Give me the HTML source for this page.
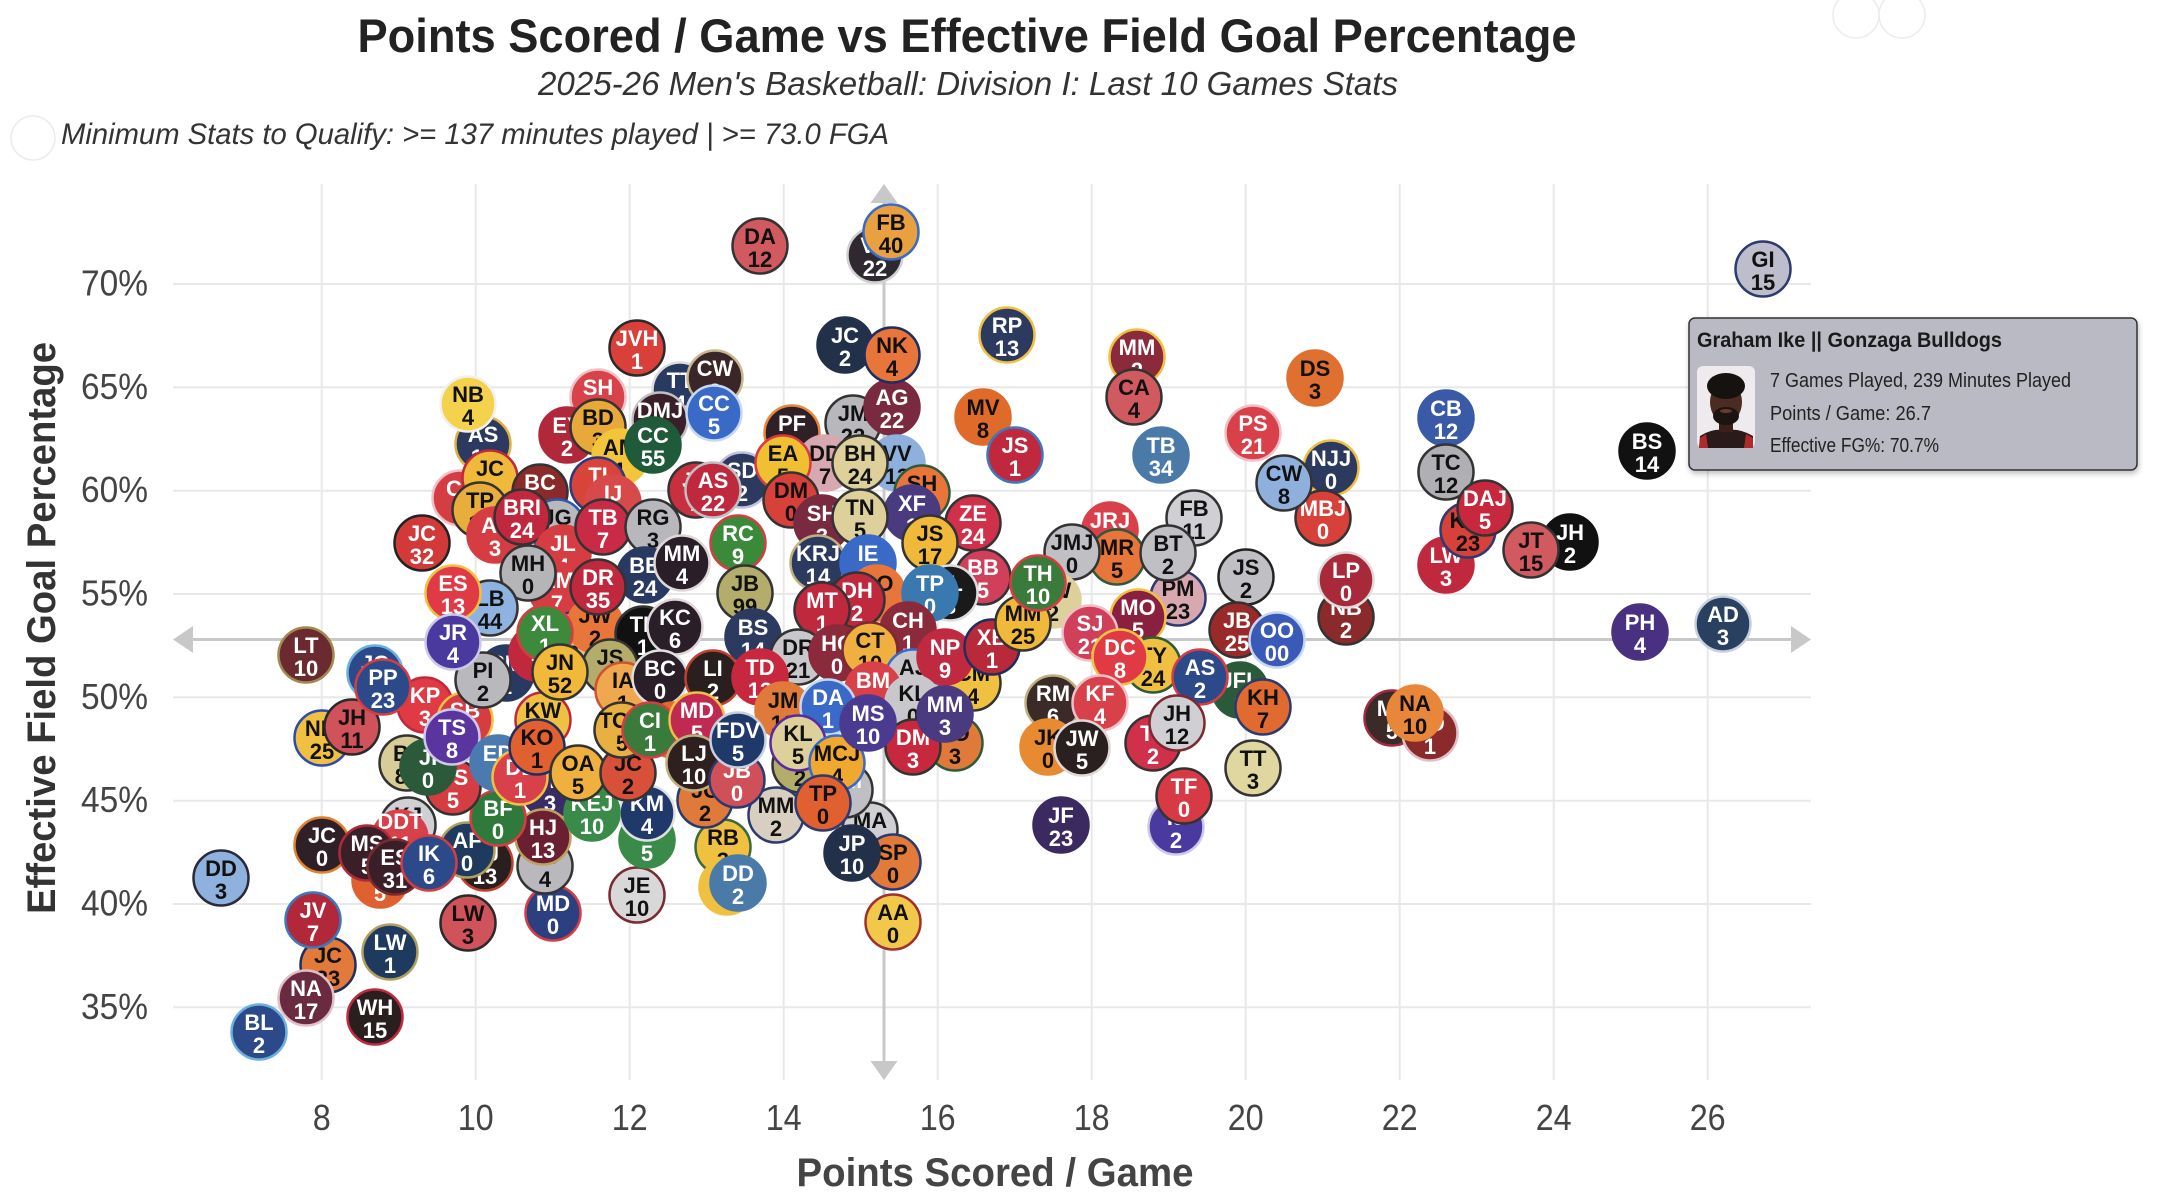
<!DOCTYPE html>
<html><head><meta charset="utf-8"><style>
html,body{margin:0;padding:0;background:#fff;}
body{width:2163px;height:1204px;overflow:hidden;}
svg{display:block;}
.b circle{stroke-width:2.5;}
.b text{font-family:"Liberation Sans",Arial,sans-serif;font-weight:bold;font-size:22px;text-anchor:middle;}
.w text{fill:#fff;}
.k text{fill:#111;}
.tick{font-family:"Liberation Sans",Arial,sans-serif;font-size:36px;fill:#444;}
</style></head><body>
<svg width="2163" height="1204" viewBox="0 0 2163 1204" xmlns="http://www.w3.org/2000/svg">
<defs><filter id="sh" x="-5%" y="-5%" width="110%" height="120%"><feDropShadow dx="1" dy="3" stdDeviation="3" flood-color="#000" flood-opacity="0.25"/></filter></defs>
<!-- header -->
<text x="967" y="52" text-anchor="middle" textLength="1219" lengthAdjust="spacingAndGlyphs" font-family="Liberation Sans, Arial, sans-serif" font-size="47" font-weight="bold" fill="#222">Points Scored / Game vs Effective Field Goal Percentage</text>
<text x="968" y="95" text-anchor="middle" textLength="860" lengthAdjust="spacingAndGlyphs" font-family="Liberation Sans, Arial, sans-serif" font-size="33" font-style="italic" fill="#333">2025-26 Men's Basketball: Division I: Last 10 Games Stats</text>
<circle cx="33" cy="138" r="22" fill="none" stroke="#ececec" stroke-width="1.5"/>
<text x="61" y="144" textLength="828" lengthAdjust="spacingAndGlyphs" font-family="Liberation Sans, Arial, sans-serif" font-size="30" font-style="italic" fill="#333">Minimum Stats to Qualify: &gt;= 137 minutes played | &gt;= 73.0 FGA</text>
<circle cx="1856" cy="15" r="23" fill="none" stroke="#ececec" stroke-width="1.5"/>
<circle cx="1902" cy="15" r="23" fill="none" stroke="#ececec" stroke-width="1.5"/>
<!-- grid -->
<g stroke="#e8e8e8" stroke-width="2">
<line x1="173" x2="1811" y1="284" y2="284"/><line x1="173" x2="1811" y1="387.3" y2="387.3"/><line x1="173" x2="1811" y1="490.7" y2="490.7"/><line x1="173" x2="1811" y1="594" y2="594"/><line x1="173" x2="1811" y1="697.3" y2="697.3"/><line x1="173" x2="1811" y1="800.7" y2="800.7"/><line x1="173" x2="1811" y1="904" y2="904"/><line x1="173" x2="1811" y1="1007.3" y2="1007.3"/>
<line y1="184" y2="1080" x1="321.7" x2="321.7"/><line y1="184" y2="1080" x1="475.7" x2="475.7"/><line y1="184" y2="1080" x1="629.7" x2="629.7"/><line y1="184" y2="1080" x1="783.7" x2="783.7"/><line y1="184" y2="1080" x1="937.7" x2="937.7"/><line y1="184" y2="1080" x1="1091.7" x2="1091.7"/><line y1="184" y2="1080" x1="1245.7" x2="1245.7"/><line y1="184" y2="1080" x1="1399.7" x2="1399.7"/><line y1="184" y2="1080" x1="1553.7" x2="1553.7"/><line y1="184" y2="1080" x1="1707.7" x2="1707.7"/>
</g>
<!-- median cross -->
<g fill="#c8c8c8" stroke="none">
<rect x="190" y="638" width="1604" height="3"/>
<rect x="882.5" y="200" width="3" height="864"/>
<polygon points="173,639.5 193,626 193,653"/>
<polygon points="1811,639.5 1791,626 1791,653"/>
<polygon points="884,184 870.5,203 897.5,203"/>
<polygon points="884,1080 870.5,1061 897.5,1061"/>
</g>
<!-- axis ticks -->
<g class="tick" text-anchor="end">
<text x="148" y="295.5" textLength="67" lengthAdjust="spacingAndGlyphs">70%</text>
<text x="148" y="398.8" textLength="67" lengthAdjust="spacingAndGlyphs">65%</text>
<text x="148" y="502.2" textLength="67" lengthAdjust="spacingAndGlyphs">60%</text>
<text x="148" y="605.5" textLength="67" lengthAdjust="spacingAndGlyphs">55%</text>
<text x="148" y="708.8" textLength="67" lengthAdjust="spacingAndGlyphs">50%</text>
<text x="148" y="812.2" textLength="67" lengthAdjust="spacingAndGlyphs">45%</text>
<text x="148" y="915.5" textLength="67" lengthAdjust="spacingAndGlyphs">40%</text>
<text x="148" y="1018.8" textLength="67" lengthAdjust="spacingAndGlyphs">35%</text>
</g>
<g class="tick" text-anchor="middle">
<text x="321.7" y="1130" textLength="18" lengthAdjust="spacingAndGlyphs">8</text>
<text x="475.7" y="1130" textLength="36" lengthAdjust="spacingAndGlyphs">10</text>
<text x="629.7" y="1130" textLength="36" lengthAdjust="spacingAndGlyphs">12</text>
<text x="783.7" y="1130" textLength="36" lengthAdjust="spacingAndGlyphs">14</text>
<text x="937.7" y="1130" textLength="36" lengthAdjust="spacingAndGlyphs">16</text>
<text x="1091.7" y="1130" textLength="36" lengthAdjust="spacingAndGlyphs">18</text>
<text x="1245.7" y="1130" textLength="36" lengthAdjust="spacingAndGlyphs">20</text>
<text x="1399.7" y="1130" textLength="36" lengthAdjust="spacingAndGlyphs">22</text>
<text x="1553.7" y="1130" textLength="36" lengthAdjust="spacingAndGlyphs">24</text>
<text x="1707.7" y="1130" textLength="36" lengthAdjust="spacingAndGlyphs">26</text>
</g>
<text x="995" y="1186" text-anchor="middle" textLength="397" lengthAdjust="spacingAndGlyphs" font-family="Liberation Sans, Arial, sans-serif" font-size="40" font-weight="bold" fill="#444">Points Scored / Game</text>
<text transform="translate(55,628) rotate(-90)" text-anchor="middle" textLength="572" lengthAdjust="spacingAndGlyphs" font-family="Liberation Sans, Arial, sans-serif" font-size="40" font-weight="bold" fill="#333">Effective Field Goal Percentage</text>

<!-- bubbles -->
<g>
<!-- isolated lower-left -->
<g class="b k" transform="translate(221,878)"><circle r="27.5" fill="#8fb1de" stroke="#2a2a3a"/><text y="-2">DD</text><text y="21">3</text></g>
<g class="b k" transform="translate(328,965)"><circle r="27.5" fill="#e27a3a" stroke="#1f2e60"/><text y="-2">JC</text><text y="21">23</text></g>
<g class="b w" transform="translate(313,920)"><circle r="27.5" fill="#b0283a" stroke="#3a78c0"/><text y="-2">JV</text><text y="21">7</text></g>
<g class="b w" transform="translate(306,998)"><circle r="27.5" fill="#6a2a40" stroke="#e0c0c8"/><text y="-2">NA</text><text y="21">17</text></g>
<g class="b w" transform="translate(259,1032)"><circle r="27.5" fill="#2c4a8a" stroke="#6ab0e0"/><text y="-2">BL</text><text y="21">2</text></g>
<g class="b w" transform="translate(375,1017)"><circle r="27.5" fill="#2a1f1f" stroke="#c0283e"/><text y="-2">WH</text><text y="21">15</text></g>
<g class="b w" transform="translate(390,952)"><circle r="27.5" fill="#1f3a5f" stroke="#b0a060"/><text y="-2">LW</text><text y="21">1</text></g>
<g class="b k" transform="translate(468,923)"><circle r="27.5" fill="#d0525a" stroke="#2a2a2a"/><text y="-2">LW</text><text y="21">3</text></g>
<g class="b w" transform="translate(553,913)"><circle r="27.5" fill="#2c4080" stroke="#d63d42"/><text y="-2">MD</text><text y="21">0</text></g>
<g class="b k" transform="translate(637,895)"><circle r="27.5" fill="#d8d8d8" stroke="#7a2a30"/><text y="-2">JE</text><text y="21">10</text></g>
<g class="b w" transform="translate(322,845)"><circle r="27.5" fill="#2f2028" stroke="#e08030"/><text y="-2">JC</text><text y="21">0</text></g>
<g class="b k" transform="translate(408,825)"><circle r="27.5" fill="#d0d0d4" stroke="#333"/><text y="-2">KJ</text><text y="21">1</text></g>
<g class="b w" transform="translate(400,838)"><circle r="27.5" fill="#d8404a" stroke="#d8404a"/><text y="-9">DDT</text><text y="14">11</text></g>
<g class="b w" transform="translate(380,880)"><circle r="27.5" fill="#e06030" stroke="#e06030"/><text y="-2">CE</text><text y="21">5</text></g>
<g class="b w" transform="translate(367,853)"><circle r="27.5" fill="#3a1f28" stroke="#b02a3a"/><text y="-2">MS</text><text y="21">5</text></g>
<g class="b w" transform="translate(395,867)"><circle r="27.5" fill="#3a1f28" stroke="#7a2a30"/><text y="-2">ES</text><text y="21">31</text></g>
<g class="b w" transform="translate(485,863)"><circle r="27.5" fill="#2a1f1f" stroke="#c04030"/><text y="-2">AJ</text><text y="21">13</text></g>
<g class="b w" transform="translate(467,850)"><circle r="27.5" fill="#1f3a5f" stroke="#b0a060"/><text y="-2">AF</text><text y="21">0</text></g>
<g class="b w" transform="translate(429,863)"><circle r="27.5" fill="#2c4a8a" stroke="#d63d42"/><text y="-2">IK</text><text y="21">6</text></g>
<g class="b k" transform="translate(545,866)"><circle r="27.5" fill="#b9b9bd" stroke="#333"/><text y="-2">HJ</text><text y="21">4</text></g>
<g class="b w" transform="translate(550,790)"><circle r="27.5" fill="#3a2c66" stroke="#3a2c66"/><text y="-2">VD</text><text y="21">3</text></g>
<g class="b w" transform="translate(543,837)"><circle r="27.5" fill="#6a2030" stroke="#c0a060"/><text y="-2">HJ</text><text y="21">13</text></g>
<g class="b w" transform="translate(647,840)"><circle r="27.5" fill="#3a8a4a" stroke="#3a8a4a"/><text y="-2">TS</text><text y="21">5</text></g>
<g class="b w" transform="translate(647,813)"><circle r="27.5" fill="#1f3a6a" stroke="#e0e0e0"/><text y="-2">KM</text><text y="21">4</text></g>
<g class="b w" transform="translate(592,813)"><circle r="27.5" fill="#3a8a4a" stroke="#3a8a4a"/><text y="-2">KEJ</text><text y="21">10</text></g>
<g class="b w" transform="translate(498,818)"><circle r="27.5" fill="#2f7a3a" stroke="#d63d42"/><text y="-2">BF</text><text y="21">0</text></g>
<g class="b k" transform="translate(723,847)"><circle r="27.5" fill="#f0c040" stroke="#3a6a3a"/><text y="-2">RB</text><text y="21">3</text></g>
<g class="b k" transform="translate(727,887)"><circle r="27.5" fill="#f0c040" stroke="#f0c040"/><text y="-2">HJ</text><text y="21">3</text></g>
<g class="b w" transform="translate(738,883)"><circle r="27.5" fill="#4a7aa8" stroke="#4a7aa8"/><text y="-2">DD</text><text y="21">2</text></g>
<g class="b k" transform="translate(870,830)"><circle r="27.5" fill="#d0d0d4" stroke="#333"/><text y="-2">MA</text><text y="21">4</text></g>
<g class="b k" transform="translate(893,862)"><circle r="27.5" fill="#e27a3a" stroke="#2c3a70"/><text y="-2">SP</text><text y="21">0</text></g>
<g class="b w" transform="translate(852,853)"><circle r="27.5" fill="#22304a" stroke="#22304a"/><text y="-2">JP</text><text y="21">10</text></g>
<g class="b k" transform="translate(893,922)"><circle r="27.5" fill="#f2c84a" stroke="#a03030"/><text y="-2">AA</text><text y="21">0</text></g>

<!-- mid-lower core -->
<g class="b k" transform="translate(322,738)"><circle r="27.5" fill="#f0c040" stroke="#2c4ab0"/><text y="-2">NM</text><text y="21">25</text></g>
<g class="b k" transform="translate(352,727)"><circle r="27.5" fill="#d0525a" stroke="#2a2a2a"/><text y="-2">JH</text><text y="21">11</text></g>
<g class="b w" transform="translate(375,673)"><circle r="27.5" fill="#2c4a8a" stroke="#6ab0e0"/><text y="-2">JC</text><text y="21">1</text></g>
<g class="b w" transform="translate(425,705)"><circle r="27.5" fill="#e03a45" stroke="#c0283e"/><text y="-2">KP</text><text y="21">3</text></g>
<g class="b w" transform="translate(383,687)"><circle r="27.5" fill="#2c4a8a" stroke="#d63d42"/><text y="-2">PP</text><text y="21">23</text></g>
<g class="b w" transform="translate(465,720)"><circle r="27.5" fill="#d63d42" stroke="#f0c040"/><text y="-2">SB</text><text y="21">2</text></g>
<g class="b k" transform="translate(407,763)"><circle r="27.5" fill="#d8cc98" stroke="#333"/><text y="-2">BJ</text><text y="21">80</text></g>
<g class="b w" transform="translate(453,787)"><circle r="27.5" fill="#d63d42" stroke="#333"/><text y="-2">DS</text><text y="21">5</text></g>
<g class="b w" transform="translate(428,767)"><circle r="27.5" fill="#2a5a3a" stroke="#2a5a3a"/><text y="-2">JI</text><text y="21">0</text></g>
<g class="b w" transform="translate(452,737)"><circle r="27.5" fill="#5a35a0" stroke="#d0c8e8"/><text y="-2">TS</text><text y="21">8</text></g>
<g class="b w" transform="translate(506,673)"><circle r="27.5" fill="#283a62" stroke="#283a62"/><text y="-2">RM</text><text y="21">1</text></g>
<g class="b k" transform="translate(483,680)"><circle r="27.5" fill="#b9b9bd" stroke="#333"/><text y="-2">PI</text><text y="21">2</text></g>
<g class="b w" transform="translate(498,763)"><circle r="27.5" fill="#4a7ab0" stroke="#4a7ab0"/><text y="-2">ED</text><text y="21">3</text></g>
<g class="b w" transform="translate(520,777)"><circle r="27.5" fill="#d8404a" stroke="#f0c040"/><text y="-2">DL</text><text y="21">1</text></g>
<g class="b k" transform="translate(543,720)"><circle r="27.5" fill="#f0c040" stroke="#c0283e"/><text y="-2">KW</text><text y="21">3</text></g>
<g class="b k" transform="translate(537,747)"><circle r="27.5" fill="#e06030" stroke="#1f2e60"/><text y="-2">KO</text><text y="21">1</text></g>
<g class="b k" transform="translate(578,773)"><circle r="27.5" fill="#f0b040" stroke="#333"/><text y="-2">OA</text><text y="21">5</text></g>
<g class="b k" transform="translate(628,773)"><circle r="27.5" fill="#d8503a" stroke="#333"/><text y="-2">JC</text><text y="21">2</text></g>

<!-- upper-left cluster -->
<g class="b w" transform="translate(483,444)"><circle r="27.5" fill="#2c3a60" stroke="#e0b040"/><text y="-2">AS</text><text y="21">10</text></g>
<g class="b k" transform="translate(468,404)"><circle r="27.5" fill="#f4d24b" stroke="#f0f0f0"/><text y="-2">NB</text><text y="21">4</text></g>
<g class="b w" transform="translate(460,498)"><circle r="27.5" fill="#d63d42" stroke="#f0c0c8"/><text y="-2">CJ</text><text y="21">3</text></g>
<g class="b k" transform="translate(490,478)"><circle r="27.5" fill="#f0b93a" stroke="#c0283e"/><text y="-2">JC</text><text y="21">2</text></g>
<g class="b w" transform="translate(540,492)"><circle r="27.5" fill="#8b2a2a" stroke="#333"/><text y="-2">BC</text><text y="21">3</text></g>
<g class="b k" transform="translate(480,510)"><circle r="27.5" fill="#e8ad3b" stroke="#333"/><text y="-2">TP</text><text y="21">11</text></g>
<g class="b w" transform="translate(495,535)"><circle r="27.5" fill="#d63d42" stroke="#d63d42"/><text y="-2">AT</text><text y="21">3</text></g>
<g class="b k" transform="translate(557,527)"><circle r="27.5" fill="#b9b9bd" stroke="#2a5ab0"/><text y="-2">JG</text><text y="21">2</text></g>
<g class="b w" transform="translate(522,517)"><circle r="27.5" fill="#c1273d" stroke="#333"/><text y="-2">BRI</text><text y="21">24</text></g>
<g class="b w" transform="translate(422,543)"><circle r="27.5" fill="#d23a3a" stroke="#222"/><text y="-2">JC</text><text y="21">32</text></g>
<g class="b w" transform="translate(563,553)"><circle r="27.5" fill="#d63d42" stroke="#d63d42"/><text y="-2">JL</text><text y="21">4</text></g>
<g class="b w" transform="translate(557,590)"><circle r="27.5" fill="#d63d42" stroke="#d63d42"/><text y="-2">AM</text><text y="21">7</text></g>
<g class="b k" transform="translate(528,573)"><circle r="27.5" fill="#b5b5b8" stroke="#333"/><text y="-2">MH</text><text y="21">0</text></g>
<g class="b k" transform="translate(490,608)"><circle r="27.5" fill="#8fb3e0" stroke="#333"/><text y="-2">LB</text><text y="21">44</text></g>
<g class="b w" transform="translate(453,593)"><circle r="27.5" fill="#e03a45" stroke="#f0c040"/><text y="-2">ES</text><text y="21">13</text></g>
<g class="b w" transform="translate(453,642)"><circle r="27.5" fill="#4a3aa0" stroke="#d0c8e8"/><text y="-2">JR</text><text y="21">4</text></g>
<g class="b w" transform="translate(537,653)"><circle r="27.5" fill="#c0283e" stroke="#c0283e"/><text y="-2">NV</text><text y="21">7</text></g>
<g class="b k" transform="translate(573,640)"><circle r="27.5" fill="#e0c890" stroke="#3a2a90"/><text y="-2">VI</text><text y="21">3</text></g>
<g class="b k" transform="translate(595,625)"><circle r="27.5" fill="#e8763a" stroke="#e8763a"/><text y="-2">JW</text><text y="21">2</text></g>
<g class="b w" transform="translate(545,633)"><circle r="27.5" fill="#3d8a3d" stroke="#d63d42"/><text y="-2">XL</text><text y="21">1</text></g>
<g class="b w" transform="translate(306,655)"><circle r="27.5" fill="#6b2a30" stroke="#a08a50"/><text y="-2">LT</text><text y="21">10</text></g>

<g class="b w" transform="translate(680,390)"><circle r="27.5" fill="#283a62" stroke="#ddd"/><text y="-2">TT</text><text y="21">4</text></g>
<g class="b w" transform="translate(715,378)"><circle r="27.5" fill="#3a2528" stroke="#c8b890"/><text y="-2">CW</text><text y="21">2</text></g>
<g class="b w" transform="translate(637,348)"><circle r="27.5" fill="#d9403a" stroke="#2a2a2a"/><text y="-2">JVH</text><text y="21">1</text></g>
<g class="b w" transform="translate(598,397)"><circle r="27.5" fill="#d8424a" stroke="#f0c0c8"/><text y="-2">SH</text><text y="21">4</text></g>
<g class="b w" transform="translate(567,435)"><circle r="27.5" fill="#b0283a" stroke="#b0283a"/><text y="-2">EY</text><text y="21">2</text></g>
<g class="b k" transform="translate(598,427)"><circle r="27.5" fill="#e8a93a" stroke="#333"/><text y="-2">BD</text><text y="21">3</text></g>
<g class="b w" transform="translate(660,420)"><circle r="27.5" fill="#3a1f28" stroke="#c0c0c0"/><text y="-2">DMJ</text><text y="21">3</text></g>
<g class="b k" transform="translate(620,457)"><circle r="27.5" fill="#f2c53a" stroke="#f2c53a"/><text y="-2">AM</text><text y="21">1</text></g>
<g class="b w" transform="translate(653,445)"><circle r="27.5" fill="#1f5a3a" stroke="#1f5a3a"/><text y="-2">CC</text><text y="21">55</text></g>
<g class="b w" transform="translate(714,413)"><circle r="27.5" fill="#3a6ac8" stroke="#c8d8f0"/><text y="-2">CC</text><text y="21">5</text></g>
<g class="b w" transform="translate(598,485)"><circle r="27.5" fill="#d8433a" stroke="#2a3a80"/><text y="-2">TI</text><text y="21">12</text></g>
<g class="b w" transform="translate(613,503)"><circle r="27.5" fill="#d84a4a" stroke="#d84a4a"/><text y="-2">IJ</text><text y="21">2</text></g>
<g class="b w" transform="translate(696,490)"><circle r="27.5" fill="#c83040" stroke="#333"/><text y="-2">JA</text><text y="21">1</text></g>
<g class="b w" transform="translate(603,527)"><circle r="27.5" fill="#c92a45" stroke="#333"/><text y="-2">TB</text><text y="21">7</text></g>
<g class="b k" transform="translate(653,527)"><circle r="27.5" fill="#b8b8bc" stroke="#333"/><text y="-2">RG</text><text y="21">3</text></g>
<g class="b w" transform="translate(645,575)"><circle r="27.5" fill="#283a62" stroke="#283a62"/><text y="-2">BB</text><text y="21">24</text></g>
<g class="b w" transform="translate(598,587)"><circle r="27.5" fill="#c0283e" stroke="#333"/><text y="-2">DR</text><text y="21">35</text></g>
<g class="b w" transform="translate(742,480)"><circle r="27.5" fill="#2c3a60" stroke="#c0c0e0"/><text y="-2">SD</text><text y="21">2</text></g>
<g class="b w" transform="translate(713,490)"><circle r="27.5" fill="#c0283e" stroke="#c0c0c0"/><text y="-2">AS</text><text y="21">22</text></g>
<g class="b k" transform="translate(853,423)"><circle r="27.5" fill="#b8b8bc" stroke="#333"/><text y="-2">JM</text><text y="21">22</text></g>
<g class="b w" transform="translate(845,345)"><circle r="27.5" fill="#22304a" stroke="#22304a"/><text y="-2">JC</text><text y="21">2</text></g>
<g class="b w" transform="translate(892,407)"><circle r="27.5" fill="#7a2a40" stroke="#7a2a40"/><text y="-2">AG</text><text y="21">22</text></g>
<g class="b k" transform="translate(892,355)"><circle r="27.5" fill="#e8763a" stroke="#1f2e60"/><text y="-2">NK</text><text y="21">4</text></g>
<g class="b w" transform="translate(792,433)"><circle r="27.5" fill="#2f2028" stroke="#e8863a"/><text y="-2">PF</text><text y="21">3</text></g>
<g class="b k" transform="translate(825,463)"><circle r="27.5" fill="#d8a8b0" stroke="#d8a8b0"/><text y="-2">DD</text><text y="21">7</text></g>
<g class="b k" transform="translate(783,463)"><circle r="27.5" fill="#f0c030" stroke="#d63d42"/><text y="-2">EA</text><text y="21">5</text></g>
<g class="b k" transform="translate(897,463)"><circle r="27.5" fill="#8fb0dc" stroke="#8fb0dc"/><text y="-2">VV</text><text y="21">13</text></g>
<g class="b k" transform="translate(860,463)"><circle r="27.5" fill="#ddd09a" stroke="#333"/><text y="-2">BH</text><text y="21">24</text></g>
<g class="b k" transform="translate(791,500)"><circle r="27.5" fill="#d8403a" stroke="#333"/><text y="-2">DM</text><text y="21">0</text></g>
<g class="b k" transform="translate(922,493)"><circle r="27.5" fill="#e8763a" stroke="#2f5a3a"/><text y="-2">SH</text><text y="21">2</text></g>
<g class="b w" transform="translate(822,523)"><circle r="27.5" fill="#7a2a40" stroke="#7a2a40"/><text y="-2">SH</text><text y="21">3</text></g>
<g class="b w" transform="translate(912,513)"><circle r="27.5" fill="#4a3a80" stroke="#4a3a80"/><text y="-2">XF</text><text y="21">1</text></g>
<g class="b k" transform="translate(860,517)"><circle r="27.5" fill="#ddd09a" stroke="#333"/><text y="-2">TN</text><text y="21">5</text></g>
<g class="b w" transform="translate(983,577)"><circle r="27.5" fill="#d0405a" stroke="#333"/><text y="-2">BB</text><text y="21">5</text></g>
<g class="b w" transform="translate(973,523)"><circle r="27.5" fill="#d0304a" stroke="#333"/><text y="-2">ZE</text><text y="21">24</text></g>
<g class="b k" transform="translate(930,543)"><circle r="27.5" fill="#f0b93a" stroke="#333"/><text y="-2">JS</text><text y="21">17</text></g>
<g class="b w" transform="translate(738,543)"><circle r="27.5" fill="#3a8a3a" stroke="#d63d42"/><text y="-2">RC</text><text y="21">9</text></g>
<g class="b w" transform="translate(682,563)"><circle r="27.5" fill="#2a1f28" stroke="#e0d8d8"/><text y="-2">MM</text><text y="21">4</text></g>
<g class="b w" transform="translate(818,563)"><circle r="27.5" fill="#2c3a60" stroke="#c0b080"/><text y="-2">KRJ</text><text y="21">14</text></g>
<g class="b w" transform="translate(868,563)"><circle r="27.5" fill="#3a6ac8" stroke="#3a6ac8"/><text y="-2">IE</text><text y="21">3</text></g>
<g class="b k" transform="translate(745,593)"><circle r="27.5" fill="#b3ac6a" stroke="#333"/><text y="-2">JB</text><text y="21">99</text></g>
<g class="b k" transform="translate(877,593)"><circle r="27.5" fill="#e8763a" stroke="#e8763a"/><text y="-2">AO</text><text y="21">0</text></g>
<g class="b w" transform="translate(950,593)"><circle r="27.5" fill="#1a1a1a" stroke="#ddd"/><text y="-2">JL</text><text y="21">3</text></g>
<g class="b w" transform="translate(930,593)"><circle r="27.5" fill="#3a78b0" stroke="#3a78b0"/><text y="-2">TP</text><text y="21">0</text></g>
<g class="b w" transform="translate(857,600)"><circle r="27.5" fill="#c0283e" stroke="#333"/><text y="-2">DH</text><text y="21">2</text></g>
<g class="b w" transform="translate(822,610)"><circle r="27.5" fill="#c0283e" stroke="#333"/><text y="-2">MT</text><text y="21">1</text></g>
<g class="b w" transform="translate(643,634)"><circle r="27.5" fill="#111" stroke="#333"/><text y="-2">TL</text><text y="21">1</text></g>
<g class="b w" transform="translate(675,627)"><circle r="27.5" fill="#2a1f28" stroke="#e0d8d8"/><text y="-2">KC</text><text y="21">6</text></g>
<g class="b k" transform="translate(610,667)"><circle r="27.5" fill="#b3ac6a" stroke="#333"/><text y="-2">JS</text><text y="21">3</text></g>
<g class="b k" transform="translate(560,672)"><circle r="27.5" fill="#f0b93a" stroke="#333"/><text y="-2">JN</text><text y="21">52</text></g>
<g class="b k" transform="translate(623,690)"><circle r="27.5" fill="#f0a850" stroke="#d05030"/><text y="-2">IA</text><text y="21">1</text></g>
<g class="b w" transform="translate(660,678)"><circle r="27.5" fill="#2a1f28" stroke="#e0e0e0"/><text y="-2">BC</text><text y="21">0</text></g>
<g class="b w" transform="translate(753,637)"><circle r="27.5" fill="#2c3a60" stroke="#2c3a60"/><text y="-2">BS</text><text y="21">14</text></g>
<g class="b w" transform="translate(713,678)"><circle r="27.5" fill="#2a1f1f" stroke="#c04030"/><text y="-2">LI</text><text y="21">2</text></g>
<g class="b k" transform="translate(798,657)"><circle r="27.5" fill="#c8c8cc" stroke="#333"/><text y="-2">DR</text><text y="21">21</text></g>
<g class="b w" transform="translate(760,677)"><circle r="27.5" fill="#c8283e" stroke="#c8283e"/><text y="-2">TD</text><text y="21">13</text></g>
<g class="b w" transform="translate(837,653)"><circle r="27.5" fill="#8a2a3a" stroke="#8a2a3a"/><text y="-2">HC</text><text y="21">0</text></g>
<g class="b w" transform="translate(908,630)"><circle r="27.5" fill="#8a2a3a" stroke="#8a2a3a"/><text y="-2">CH</text><text y="21">1</text></g>
<g class="b k" transform="translate(870,650)"><circle r="27.5" fill="#f0b040" stroke="#7a2a30"/><text y="-2">CT</text><text y="21">10</text></g>
<g class="b k" transform="translate(913,677)"><circle r="27.5" fill="#c8c8cc" stroke="#3a6ac8"/><text y="-2">AJ</text><text y="21">0</text></g>
<g class="b k" transform="translate(973,683)"><circle r="27.5" fill="#f0c040" stroke="#333"/><text y="-2">CM</text><text y="21">4</text></g>
<g class="b w" transform="translate(945,657)"><circle r="27.5" fill="#c02a40" stroke="#c02a40"/><text y="-2">NP</text><text y="21">9</text></g>
<g class="b w" transform="translate(992,647)"><circle r="27.5" fill="#b82a3a" stroke="#1f2e60"/><text y="-2">XB</text><text y="21">1</text></g>
<g class="b w" transform="translate(873,690)"><circle r="27.5" fill="#d8404a" stroke="#d8404a"/><text y="-2">BM</text><text y="21">2</text></g>
<g class="b k" transform="translate(783,710)"><circle r="27.5" fill="#e07a3a" stroke="#e07a3a"/><text y="-2">JM</text><text y="21">12</text></g>
<g class="b w" transform="translate(828,707)"><circle r="27.5" fill="#3a6ac8" stroke="#c8d8f0"/><text y="-2">DA</text><text y="21">1</text></g>
<g class="b k" transform="translate(913,703)"><circle r="27.5" fill="#c8c8cc" stroke="#c8c8cc"/><text y="-2">KL</text><text y="21">0</text></g>
<g class="b k" transform="translate(955,743)"><circle r="27.5" fill="#e07a3a" stroke="#2f5a3a"/><text y="-2">JO</text><text y="21">3</text></g>
<g class="b w" transform="translate(913,747)"><circle r="27.5" fill="#c8283e" stroke="#333"/><text y="-2">DM</text><text y="21">3</text></g>
<g class="b w" transform="translate(945,714)"><circle r="27.5" fill="#4a3a80" stroke="#4a3a80"/><text y="-2">MM</text><text y="21">3</text></g>
<g class="b k" transform="translate(800,765)"><circle r="27.5" fill="#b3ac6a" stroke="#333"/><text y="-2">GB</text><text y="21">2</text></g>
<g class="b k" transform="translate(798,743)"><circle r="27.5" fill="#ddd09a" stroke="#5a2aa0"/><text y="-2">KL</text><text y="21">5</text></g>
<g class="b w" transform="translate(845,790)"><circle r="27.5" fill="#c0c0c4" stroke="#333"/><text y="-2">AM</text><text y="21">2</text></g>
<g class="b k" transform="translate(837,763)"><circle r="27.5" fill="#f0a830" stroke="#3a6ac8"/><text y="-2">MCJ</text><text y="21">4</text></g>
<g class="b w" transform="translate(868,723)"><circle r="27.5" fill="#4a3a90" stroke="#4a3a90"/><text y="-2">MS</text><text y="21">10</text></g>
<g class="b k" transform="translate(776,815)"><circle r="27.5" fill="#d8cfc0" stroke="#2c3a70"/><text y="-2">MM</text><text y="21">2</text></g>
<g class="b k" transform="translate(823,803)"><circle r="27.5" fill="#e06030" stroke="#2c3a70"/><text y="-2">TP</text><text y="21">0</text></g>
<g class="b k" transform="translate(705,800)"><circle r="27.5" fill="#e07a3a" stroke="#2a3a70"/><text y="-2">JC</text><text y="21">2</text></g>
<g class="b k" transform="translate(673,730)"><circle r="27.5" fill="#e06a30" stroke="#e06a30"/><text y="-2">DJ</text><text y="21">3</text></g>
<g class="b k" transform="translate(622,730)"><circle r="27.5" fill="#e8b040" stroke="#333"/><text y="-2">TOB</text><text y="21">5</text></g>
<g class="b w" transform="translate(650,730)"><circle r="27.5" fill="#3a7a3a" stroke="#d63d42"/><text y="-2">CI</text><text y="21">1</text></g>
<g class="b w" transform="translate(697,720)"><circle r="27.5" fill="#c02a50" stroke="#f0c040"/><text y="-2">MD</text><text y="21">5</text></g>
<g class="b w" transform="translate(694,763)"><circle r="27.5" fill="#2f2020" stroke="#c0b080"/><text y="-2">LJ</text><text y="21">10</text></g>
<g class="b w" transform="translate(737,780)"><circle r="27.5" fill="#d0505a" stroke="#2a3a70"/><text y="-2">JB</text><text y="21">0</text></g>
<g class="b w" transform="translate(738,740)"><circle r="27.5" fill="#1f3a6a" stroke="#c8d0e0"/><text y="-2">FDV</text><text y="21">5</text></g>

<!-- top -->
<g class="b k" transform="translate(760,246)"><circle r="27.5" fill="#d05a60" stroke="#333"/><text y="-2">DA</text><text y="21">12</text></g>
<g class="b w" transform="translate(875,255)"><circle r="27.5" fill="#2f2830" stroke="#d0d0d0"/><text y="-2">VV</text><text y="21">22</text></g>
<g class="b k" transform="translate(891,232)"><circle r="27.5" fill="#e8a040" stroke="#3a6ac8"/><text y="-2">FB</text><text y="21">40</text></g>
<g class="b w" transform="translate(1007,335)"><circle r="27.5" fill="#2c3a60" stroke="#f0c040"/><text y="-2">RP</text><text y="21">13</text></g>
<g class="b k" transform="translate(983,417)"><circle r="27.5" fill="#e06a2a" stroke="#e06a2a"/><text y="-2">MV</text><text y="21">8</text></g>
<g class="b w" transform="translate(1015,455)"><circle r="27.5" fill="#c0283e" stroke="#3a78c0"/><text y="-2">JS</text><text y="21">1</text></g>

<!-- right cluster -->
<g class="b w" transform="translate(1137,357)"><circle r="27.5" fill="#8a2a3a" stroke="#f0c040"/><text y="-2">MM</text><text y="21">2</text></g>
<g class="b k" transform="translate(1134,397)"><circle r="27.5" fill="#d05a60" stroke="#333"/><text y="-2">CA</text><text y="21">4</text></g>
<g class="b w" transform="translate(1161,455)"><circle r="27.5" fill="#4a7aa8" stroke="#4a7aa8"/><text y="-2">TB</text><text y="21">34</text></g>
<g class="b k" transform="translate(1315,378)"><circle r="27.5" fill="#e07030" stroke="#e07030"/><text y="-2">DS</text><text y="21">3</text></g>
<g class="b w" transform="translate(1253,433)"><circle r="27.5" fill="#d8404a" stroke="#f0c0c8"/><text y="-2">PS</text><text y="21">21</text></g>
<g class="b w" transform="translate(1331,468)"><circle r="27.5" fill="#2c3a60" stroke="#f0c040"/><text y="-2">NJJ</text><text y="21">0</text></g>
<g class="b w" transform="translate(1323,518)"><circle r="27.5" fill="#d8403a" stroke="#333"/><text y="-2">MBJ</text><text y="21">0</text></g>
<g class="b k" transform="translate(1284,483)"><circle r="27.5" fill="#8fb0dc" stroke="#333"/><text y="-2">CW</text><text y="21">8</text></g>
<g class="b w" transform="translate(1446,418)"><circle r="27.5" fill="#3a5aa8" stroke="#3a5aa8"/><text y="-2">CB</text><text y="21">12</text></g>
<g class="b k" transform="translate(1446,472)"><circle r="27.5" fill="#b0b0b4" stroke="#333"/><text y="-2">TC</text><text y="21">12</text></g>
<g class="b w" transform="translate(1446,565)"><circle r="27.5" fill="#c0283e" stroke="#c0283e"/><text y="-2">LW</text><text y="21">3</text></g>
<g class="b k" transform="translate(1468,530)"><circle r="27.5" fill="#d8403a" stroke="#2c3a70"/><text y="-2">KW</text><text y="21">23</text></g>
<g class="b w" transform="translate(1485,508)"><circle r="27.5" fill="#c8283e" stroke="#333"/><text y="-2">DAJ</text><text y="21">5</text></g>
<g class="b w" transform="translate(1570,542)"><circle r="27.5" fill="#111" stroke="#111"/><text y="-2">JH</text><text y="21">2</text></g>
<g class="b k" transform="translate(1531,550)"><circle r="27.5" fill="#d05a60" stroke="#333"/><text y="-2">JT</text><text y="21">15</text></g>
<g class="b w" transform="translate(1647,451)"><circle r="27.5" fill="#111" stroke="#111"/><text y="-2">BS</text><text y="21">14</text></g>
<g class="b k" transform="translate(1763,269)"><circle r="27.5" fill="#bdbdcb" stroke="#2c3a70"/><text y="-2">GI</text><text y="21">15</text></g>
<g class="b w" transform="translate(1640,632)"><circle r="27.5" fill="#4a3080" stroke="#4a3080"/><text y="-2">PH</text><text y="21">4</text></g>
<g class="b w" transform="translate(1723,624)"><circle r="27.5" fill="#2a4060" stroke="#c8d0e0"/><text y="-2">AD</text><text y="21">3</text></g>

<g class="b w" transform="translate(1110,530)"><circle r="27.5" fill="#d8404a" stroke="#d8404a"/><text y="-2">JRJ</text><text y="21">1</text></g>
<g class="b k" transform="translate(1117,557)"><circle r="27.5" fill="#e8763a" stroke="#2f5a3a"/><text y="-2">MR</text><text y="21">5</text></g>
<g class="b k" transform="translate(1072,552)"><circle r="27.5" fill="#c0c0c4" stroke="#333"/><text y="-2">JMJ</text><text y="21">0</text></g>
<g class="b k" transform="translate(1053,600)"><circle r="27.5" fill="#ddd09a" stroke="#ddd09a"/><text y="-2">BW</text><text y="21">2</text></g>
<g class="b k" transform="translate(1023,623)"><circle r="27.5" fill="#f0b93a" stroke="#333"/><text y="-2">MM</text><text y="21">25</text></g>
<g class="b w" transform="translate(1038,583)"><circle r="27.5" fill="#3a7a3a" stroke="#d63d42"/><text y="-2">TH</text><text y="21">10</text></g>
<g class="b k" transform="translate(1194,518)"><circle r="27.5" fill="#d0d0d4" stroke="#333"/><text y="-2">FB</text><text y="21">11</text></g>
<g class="b k" transform="translate(1178,598)"><circle r="27.5" fill="#d8a8b0" stroke="#2c3a70"/><text y="-2">PM</text><text y="21">23</text></g>
<g class="b k" transform="translate(1168,553)"><circle r="27.5" fill="#c0c0c4" stroke="#333"/><text y="-2">BT</text><text y="21">2</text></g>
<g class="b k" transform="translate(1246,577)"><circle r="27.5" fill="#c0c0c4" stroke="#222"/><text y="-2">JS</text><text y="21">2</text></g>
<g class="b w" transform="translate(1346,617)"><circle r="27.5" fill="#8a2a2a" stroke="#333"/><text y="-2">NB</text><text y="21">2</text></g>
<g class="b w" transform="translate(1346,580)"><circle r="27.5" fill="#a82a3a" stroke="#ddd"/><text y="-2">LP</text><text y="21">0</text></g>
<g class="b w" transform="translate(1138,617)"><circle r="27.5" fill="#8a2040" stroke="#f0c040"/><text y="-2">MO</text><text y="21">5</text></g>
<g class="b w" transform="translate(1090,633)"><circle r="27.5" fill="#d0405a" stroke="#f0c0c8"/><text y="-2">SJ</text><text y="21">21</text></g>
<g class="b k" transform="translate(1153,665)"><circle r="27.5" fill="#f0c040" stroke="#2f5a3a"/><text y="-2">TY</text><text y="21">24</text></g>
<g class="b w" transform="translate(1120,657)"><circle r="27.5" fill="#e03a45" stroke="#f0c040"/><text y="-2">DC</text><text y="21">8</text></g>
<g class="b w" transform="translate(1237,630)"><circle r="27.5" fill="#9a2a2a" stroke="#333"/><text y="-2">JB</text><text y="21">25</text></g>
<g class="b w" transform="translate(1277,640)"><circle r="27.5" fill="#3a5ab8" stroke="#c8d8f0"/><text y="-2">OO</text><text y="21">00</text></g>
<g class="b w" transform="translate(1240,690)"><circle r="27.5" fill="#2a5a3a" stroke="#2a5a3a"/><text y="-2">JFL</text><text y="21">1</text></g>
<g class="b w" transform="translate(1200,677)"><circle r="27.5" fill="#2c4a8a" stroke="#d63d42"/><text y="-2">AS</text><text y="21">2</text></g>
<g class="b k" transform="translate(1263,707)"><circle r="27.5" fill="#e06a30" stroke="#2c3a70"/><text y="-2">KH</text><text y="21">7</text></g>
<g class="b w" transform="translate(1053,703)"><circle r="27.5" fill="#3a2a28" stroke="#c0b080"/><text y="-2">RM</text><text y="21">6</text></g>
<g class="b w" transform="translate(1100,703)"><circle r="27.5" fill="#d8404a" stroke="#f0c0c8"/><text y="-2">KF</text><text y="21">4</text></g>
<g class="b k" transform="translate(1048,747)"><circle r="27.5" fill="#e88a30" stroke="#e88a30"/><text y="-2">JK</text><text y="21">0</text></g>
<g class="b w" transform="translate(1082,748)"><circle r="27.5" fill="#2a2020" stroke="#e0d8d8"/><text y="-2">JW</text><text y="21">5</text></g>
<g class="b w" transform="translate(1153,743)"><circle r="27.5" fill="#d0304a" stroke="#333"/><text y="-2">TJ</text><text y="21">2</text></g>
<g class="b k" transform="translate(1177,723)"><circle r="27.5" fill="#d0d0d4" stroke="#7a2a30"/><text y="-2">JH</text><text y="21">12</text></g>
<g class="b w" transform="translate(1061,825)"><circle r="27.5" fill="#3a2a60" stroke="#3a2a60"/><text y="-2">JF</text><text y="21">23</text></g>
<g class="b w" transform="translate(1176,827)"><circle r="27.5" fill="#4a3aa0" stroke="#d0c8e8"/><text y="-2">IJ</text><text y="21">2</text></g>
<g class="b w" transform="translate(1184,796)"><circle r="27.5" fill="#d83a45" stroke="#333"/><text y="-2">TF</text><text y="21">0</text></g>
<g class="b k" transform="translate(1253,768)"><circle r="27.5" fill="#e0d6a0" stroke="#333"/><text y="-2">TT</text><text y="21">3</text></g>
<g class="b w" transform="translate(1392,718)"><circle r="27.5" fill="#3a2a28" stroke="#a02a40"/><text y="-2">MJ</text><text y="21">5</text></g>
<g class="b w" transform="translate(1430,733)"><circle r="27.5" fill="#8a2a2a" stroke="#e0c0c8"/><text y="-2">JO</text><text y="21">1</text></g>
<g class="b k" transform="translate(1415,713)"><circle r="27.5" fill="#e8863a" stroke="#e8863a"/><text y="-2">NA</text><text y="21">10</text></g>
</g>

<!-- tooltip -->
<g filter="url(#sh)"><rect x="1689" y="318" width="448" height="152" rx="6" fill="#babac4" stroke="#333" stroke-width="1.5"/></g>
<text x="1697" y="347" textLength="305" lengthAdjust="spacingAndGlyphs" font-family="Liberation Sans, Arial, sans-serif" font-size="21" font-weight="bold" fill="#1a1a1a">Graham Ike || Gonzaga Bulldogs</text>
<rect x="1697" y="366" width="58" height="82" rx="6" fill="#eeeaee"/>
<g>
<path d="M1699 448 L1700 436 Q1712 428 1726 430 Q1740 428 1753 436 L1753 448 Z" fill="#2a1a1a"/>
<path d="M1699 448 L1700 438 L1706 434 L1708 448 Z" fill="#b02a2a"/>
<path d="M1753 448 L1753 438 L1746 434 L1744 448 Z" fill="#b02a2a"/>
<rect x="1719" y="418" width="14" height="14" fill="#3a2018"/>
<ellipse cx="1726" cy="402" rx="16" ry="21" fill="#4a2c22"/>
<ellipse cx="1726" cy="386" rx="19" ry="13" fill="#161210"/>
<ellipse cx="1726" cy="416" rx="13" ry="9" fill="#1c1410"/>
<ellipse cx="1726" cy="411" rx="6" ry="2" fill="#6a3a30"/>
</g>
<g font-family="Liberation Sans, Arial, sans-serif" font-size="20" fill="#222">
<text x="1770" y="387" textLength="301" lengthAdjust="spacingAndGlyphs">7 Games Played, 239 Minutes Played</text>
<text x="1770" y="420" textLength="161" lengthAdjust="spacingAndGlyphs">Points / Game: 26.7</text>
<text x="1770" y="452" textLength="169" lengthAdjust="spacingAndGlyphs">Effective FG%: 70.7%</text>
</g>
</svg>
</body></html>
